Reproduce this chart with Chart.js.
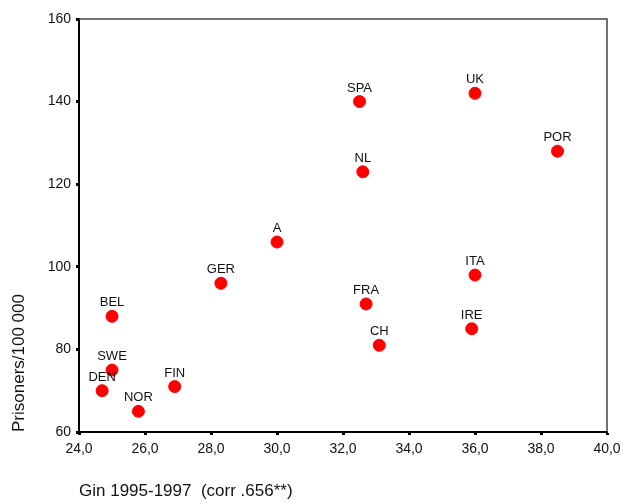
<!DOCTYPE html>
<html>
<head>
<meta charset="utf-8">
<title>Gini vs prisoners</title>
<script src="https://cdn.jsdelivr.net/npm/chart.js@4.4.1/dist/chart.umd.min.js"></script>
<style>
  html, body { margin: 0; padding: 0; background: #fff; }
  #wrap { width: 623px; height: 503px; }
</style>
</head>
<body>
<div id="wrap"><canvas id="myChart"></canvas></div>
<script>
// data
const countries = ['SPA', 'UK', 'POR', 'NL', 'A', 'GER', 'BEL', 'SWE', 'DEN', 'NOR', 'FIN', 'FRA', 'CH', 'ITA', 'IRE'];
const gini = [32.5, 36.0, 38.5, 32.6, 30.0, 28.3, 25.0, 25.0, 24.7, 25.8, 26.9, 32.7, 33.1, 36.0, 35.9];
const prisoners = [140, 142, 128, 123, 106, 96, 88, 75, 70, 65, 71, 91, 81, 98, 85];

const xTicks = [24, 26, 28, 30, 32, 34, 36, 38, 40];
const yTicks = [60, 80, 100, 120, 140, 160];

const xTitle = 'Gin 1995-1997  (corr .656**)';
const yTitle = 'Prisoners/100 000';

var points = [];
for (var i = 0; i < countries.length; i++) {
  points.push({ x: gini[i], y: prisoners[i] });
}

// writes the country name above each dot
const pointLabels = {
  id: 'pointLabels',
  afterDatasetsDraw(chart) {
    const ctx = chart.ctx;
    const meta = chart.getDatasetMeta(0);
    ctx.save();
    ctx.font = '13px "Liberation Sans", Arial, sans-serif';
    ctx.fillStyle = '#111';
    ctx.textAlign = 'center';
    ctx.textBaseline = 'alphabetic';
    meta.data.forEach(function(pt, idx) {
      ctx.fillText(countries[idx], pt.x, pt.y - 10);
    });
    ctx.restore();
  }
};

// thin frame on top and right side
const frame = {
  id: 'frame',
  beforeDatasetsDraw(chart) {
    const a = chart.chartArea;
    const ctx = chart.ctx;
    ctx.save();
    ctx.strokeStyle = '#444';
    ctx.lineWidth = 1.5;
    ctx.beginPath();
    ctx.moveTo(a.left, a.top);
    ctx.lineTo(a.right, a.top);
    ctx.lineTo(a.right, a.bottom);
    ctx.stroke();
    ctx.restore();
  }
};

const tickFont = { family: '"Liberation Sans", Arial, sans-serif', size: 14 };
const titleFont = { family: '"Liberation Sans", Arial, sans-serif', size: 17 };

var ctx = document.getElementById('myChart').getContext('2d');
var myChart = new Chart(ctx, {
  type: 'scatter',
  data: {
    datasets: [{
      label: 'Countries',
      data: points,
      backgroundColor: '#ff0000',
      borderColor: '#ff0000',
      pointRadius: 6,
      pointHoverRadius: 6
    }]
  },
  options: {
    responsive: true,
    maintainAspectRatio: false,
    animation: false,
    layout: { padding: { top: 19, right: 16, left: 0, bottom: 0 } },
    plugins: {
      legend: { display: false },
      tooltip: { enabled: false }
    },
    scales: {
      x: {
        type: 'linear',
        min: 24,
        max: 40,
        afterFit: function(scale) {
          scale.height = 71;
          scale.paddingRight = 0;
        },
        afterBuildTicks: function(scale) {
          scale.ticks = xTicks.map(function(v) { return { value: v }; });
        },
        ticks: {
          color: '#111',
          font: tickFont,
          padding: 6,
          maxRotation: 0,
          callback: function(v) { return v.toFixed(1).replace('.', ','); }
        },
        grid: { drawOnChartArea: false, drawTicks: true, tickLength: 3, tickWidth: 3, tickColor: '#000' },
        border: { display: true, color: '#000', width: 2 },
        title: { display: true, text: xTitle, align: 'start', color: '#111', font: titleFont, padding: { top: 0, bottom: 1 } }
      },
      y: {
        type: 'linear',
        min: 60,
        max: 160,
        afterFit: function(scale) {
          scale.width = 79;
          scale.paddingTop = 0;
        },
        afterBuildTicks: function(scale) {
          scale.ticks = yTicks.map(function(v) { return { value: v }; });
        },
        ticks: {
          color: '#111',
          font: tickFont,
          padding: 5
        },
        grid: { drawOnChartArea: false, drawTicks: true, tickLength: 3, tickWidth: 3, tickColor: '#000' },
        border: { display: true, color: '#000', width: 2 },
        title: { display: true, text: yTitle, align: 'start', color: '#111', font: titleFont, padding: { top: 9, bottom: 0 } }
      }
    }
  },
  plugins: [pointLabels, frame]
});
</script>
</body>
</html>
